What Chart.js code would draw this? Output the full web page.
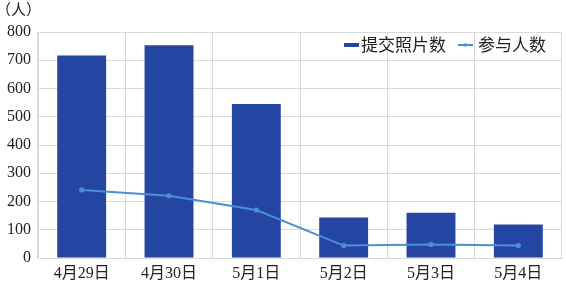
<!DOCTYPE html>
<html><head><meta charset="utf-8">
<script src="https://cdn.jsdelivr.net/npm/chart.js@4"></script>
<style>html,body{margin:0;padding:0;background:#fff}#wrap{width:566px;height:288px}</style>
</head><body><div id="wrap"><canvas id="c" width="566" height="288"></canvas></div>
<script>
const categories = ['4月29日','4月30日','5月1日','5月2日','5月3日','5月4日'];
const photoCounts = [717, 753, 545, 143, 160, 119];
const participants = [241, 220, 170, 44, 48, 44];
const yTicks = [0,100,200,300,400,500,600,700,800];
const unitLabel = '（人）';
const seriesNames = ['提交照片数','参与人数'];

const serif = '"Liberation Serif", "Noto Sans CJK SC", serif';
const sans = '"Noto Sans CJK SC", "Noto Sans", sans-serif';
const barColor = '#2445a2';
const lineColor = '#4a90d4';

const extrasPlugin = {
  id: 'extras',
  afterDraw(chart){
    const ctx = chart.ctx;
    ctx.save();
    ctx.fillStyle = '#222';
    ctx.font = '15px ' + sans;
    ctx.textBaseline = 'middle';
    ctx.textAlign = 'left';
    ctx.fillText(unitLabel, -4, 9);
    // legend
    const y = 45;
    ctx.font = '17px ' + sans;
    ctx.fillStyle = barColor;
    ctx.fillRect(344, y - 2, 15, 4);
    ctx.fillStyle = '#222';
    ctx.fillText(seriesNames[0], 361, y);
    ctx.strokeStyle = lineColor; ctx.lineWidth = 2;
    ctx.beginPath(); ctx.moveTo(458, y); ctx.lineTo(473, y); ctx.stroke();
    ctx.fillStyle = lineColor;
    ctx.beginPath(); ctx.arc(465.5, y, 1.8, 0, Math.PI*2); ctx.fill();
    ctx.fillStyle = '#222';
    ctx.fillText(seriesNames[1], 478, y);
    ctx.restore();
  }
};

new Chart(document.getElementById('c'), {
  type: 'bar',
  data: {
    labels: categories,
    datasets: [
      {label: seriesNames[0], data: photoCounts, backgroundColor: barColor, borderWidth: 0,
       barPercentage: 0.56, categoryPercentage: 1, order: 1},
      {type: 'line', label: seriesNames[1], data: participants, borderColor: lineColor, backgroundColor: lineColor,
       borderWidth: 2, pointRadius: 1.6, pointHoverRadius: 1.6, tension: 0, order: 0}
    ]
  },
  options: {
    responsive: false,
    animation: false,
    layout: {padding: {top: 32, right: 4, left: 0, bottom: 0}},
    plugins: {
      legend: {display: false},
      tooltip: {enabled: false},
      title: {display: false}
    },
    scales: {
      x: {
        grid: {color: '#d9d9d9', drawTicks: false, offset: true},
        border: {color: '#d9d9d9'},
        ticks: {font: {family: serif, size: 16}, color: '#222', padding: 6, maxRotation: 0},
        afterFit(s){ s.height = 30; }
      },
      y: {
        min: 0, max: 800,
        afterBuildTicks(s){ s.ticks = yTicks.map(v=>({value:v})); },
        grid: {color: '#d9d9d9', drawTicks: false},
        border: {color: '#d9d9d9'},
        ticks: {font: {family: serif, size: 16}, color: '#222', padding: 7},
        afterFit(s){ s.width = 38; }
      }
    }
  },
  plugins: [extrasPlugin]
});
</script></body></html>
